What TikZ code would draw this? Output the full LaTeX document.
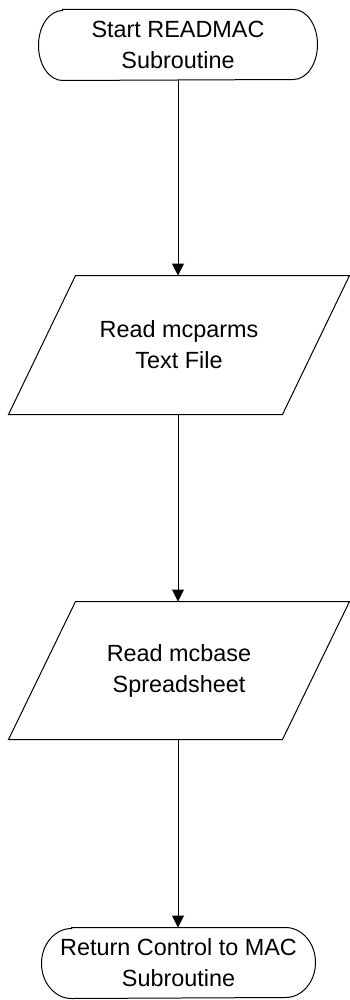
\documentclass[tikz,border=0pt]{standalone}
\usepackage{fontspec}
\setmainfont{Liberation Sans}
\usetikzlibrary{positioning}
\usetikzlibrary{arrows.meta}

\begin{document}
\begin{tikzpicture}[x=1pt,y=-1pt,line width=1pt,
	font=\fontsize{23.4}{31}\selectfont,
	term/.style={inner sep=0pt, minimum height=70pt, align=center},
	io/.style={inner sep=0pt, minimum width=273pt, minimum height=138pt, align=center},
	flow/.style={-{Triangle[width=12pt,length=12pt]}}]
\useasboundingbox (0,0) rectangle (349,1000);

\node (start) at (178,45) [term, minimum width=278pt] {Start READMAC\\Subroutine};
\node (p1) at (179,345) [io] {Read mcparms\\Text File};
\node (p2) at (179,670.5) [io, minimum height=137pt] {Read mcbase\\Spreadsheet};
\node (fin) at (178.5,963) [term, minimum width=273pt] {Return Control to MAC\\Subroutine};

% terminator outlines
\foreach \n/\r in {start/24, fin/30} {
\draw ([xshift=\r pt]\n.north west) -- ([xshift=-\r pt]\n.north east) arc[start angle=90, end angle=-90, x radius=\r pt, y radius=35pt] -- ([xshift=\r pt]\n.south west) arc[start angle=270, end angle=90, x radius=\r pt, y radius=35pt] -- cycle;
}
% data boxes
\foreach \n in {p1, p2} {
\draw ([xshift=33.5pt]\n.north west) -- ([xshift=33.5pt]\n.north east) -- ([xshift=-33.5pt]\n.south east) -- ([xshift=-33.5pt]\n.south west) -- cycle;
}

\draw[flow] (start.south) -- (start.south |- p1.north);
\draw[flow] (p1.south -| start) -- (start |- p2.north);
\draw[flow] (p2.south -| start) -- (fin.north -| start);
\end{tikzpicture}
\end{document}
